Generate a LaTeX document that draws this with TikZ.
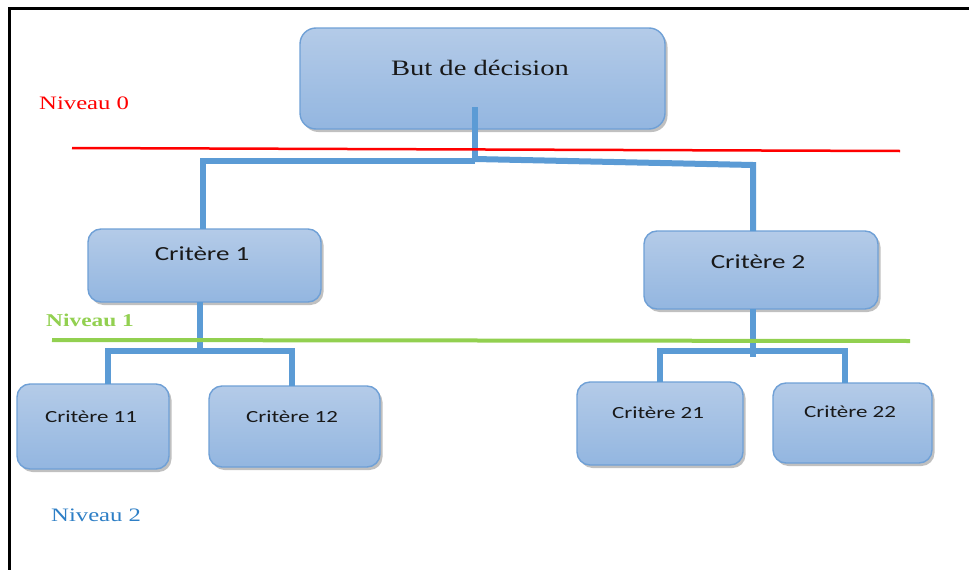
\documentclass[tikz,border=0pt]{standalone}
\usepackage{fontspec}
\usetikzlibrary{calc,shadows}
\newfontfamily\titlefont[FakeStretch=1.3]{Liberation Serif}
\newfontfamily\boxfont[FakeStretch=1.35]{Carlito}
\definecolor{boxtop}{HTML}{B4CBE8}
\definecolor{boxbot}{HTML}{93B6E0}
\definecolor{boxline}{HTML}{6FA0D6}
\definecolor{linkblue}{HTML}{5B9BD5}
\definecolor{lvlgreen}{HTML}{92D050}
\definecolor{lvlblue}{HTML}{2E7FC6}
\tikzset{
  critbox/.style={rectangle, rounded corners=13pt, draw=boxline, line width=1.4pt,
    top color=boxtop, bottom color=boxbot, inner sep=0pt, outer sep=0pt,
    drop shadow={shadow xshift=2.5pt, shadow yshift=-3pt, opacity=.35, fill=black!70}},
  boxlabel/.style={inner sep=0pt, text=black!90},
  conn/.style={draw=linkblue, line width=6pt, line join=miter},
  lvllabel/.style={inner sep=0pt, anchor=west}
}
\begin{document}
\begin{tikzpicture}[x=1pt, y=-1pt]
\useasboundingbox (0,0) rectangle (969,570);
\fill[white] (0,0) rectangle (969,570);
% frame
\draw[line width=3pt] (9.5,570) -- (9.5,8) -- (969,8);

% boxes
\node[critbox, rounded corners=16pt, minimum width=365pt, minimum height=101pt] (goal) at (482.5,78.5) {};
\node[critbox, minimum width=233pt, minimum height=73pt] (c1) at (204.5,265.5) {};
\node[critbox, minimum width=234pt, minimum height=78pt] (c2) at (761,270) {};
\node[critbox, minimum width=152pt, minimum height=85pt] (c11) at (93,426.5) {};
\node[critbox, minimum width=171pt, minimum height=81pt] (c12) at (294.5,426.5) {};
\node[critbox, minimum width=166pt, minimum height=83pt] (c21) at (660,423.5) {};
\node[critbox, minimum width=159pt, minimum height=80pt] (c22) at (852.5,423) {};

% box texts
\node[boxlabel, font=\titlefont\fontsize{22}{26}\selectfont] (goal-t) at (480,68) {But de décision};
\node[boxlabel, font=\boxfont\fontsize{20}{24}\selectfont] (c1-t) at (202,254) {Critère 1};
\node[boxlabel, font=\boxfont\fontsize{20}{24}\selectfont] (c2-t) at (758,262) {Critère 2};
\node[boxlabel, font=\boxfont\fontsize{17}{20}\selectfont] (c11-t) at (91,417) {Critère 11};
\node[boxlabel, font=\boxfont\fontsize{17}{20}\selectfont] (c12-t) at (292,417) {Critère 12};
\node[boxlabel, font=\boxfont\fontsize{17}{20}\selectfont] (c21-t) at (658,413) {Critère 21};
\node[boxlabel, font=\boxfont\fontsize{17}{20}\selectfont] (c22-t) at (850,412) {Critère 22};

% connectors: goal to first level
\coordinate (g0) at ([xshift=-7.5pt, yshift=22pt]goal.south);
\draw[conn] (g0) -- ++(0,53) coordinate (gj);
\draw[conn] ($(gj)+(0,1)$) -| ([xshift=-1.5pt]c1.north);
\draw[conn] ($(gj)+(0,-1)$) -- ($([xshift=-8pt]c2.north |- gj)+(0,5)$) -- ([xshift=-8pt]c2.north);

% connectors: first level to second level
\coordinate (j1) at (200,351);
\coordinate (j2) at (753,351);
\draw[conn] (c1.south -| j1) -- ($(j1)+(0,3)$);
\draw[conn] ([xshift=15pt]c11.north) |- (j1) -| ([xshift=-2.5pt]c12.north);
\draw[conn] (c2.south -| j2) -- ($(j2)+(0,6)$);
\draw[conn] (c21.north) |- (j2) -| ([xshift=-7.5pt]c22.north);

% level separators
\draw[red, line width=2.5pt] (72,148) coordinate (r0) -- (900,151) coordinate (r1);
\draw[lvlgreen, line width=4pt] (52,340) coordinate (l0) -- (910,341) coordinate (l1);

% level labels
\node[lvllabel, text=red, font=\titlefont\fontsize{19}{22}\selectfont] (n0) at (39,103) {Niveau 0};
\node[lvllabel, text=lvlgreen, font=\titlefont\bfseries\fontsize{18}{22}\selectfont] (n1) at (46,320) {Niveau 1};
\node[lvllabel, text=lvlblue, font=\titlefont\fontsize{19}{22}\selectfont] (n2) at (51,515) {Niveau 2};
\end{tikzpicture}
\end{document}
